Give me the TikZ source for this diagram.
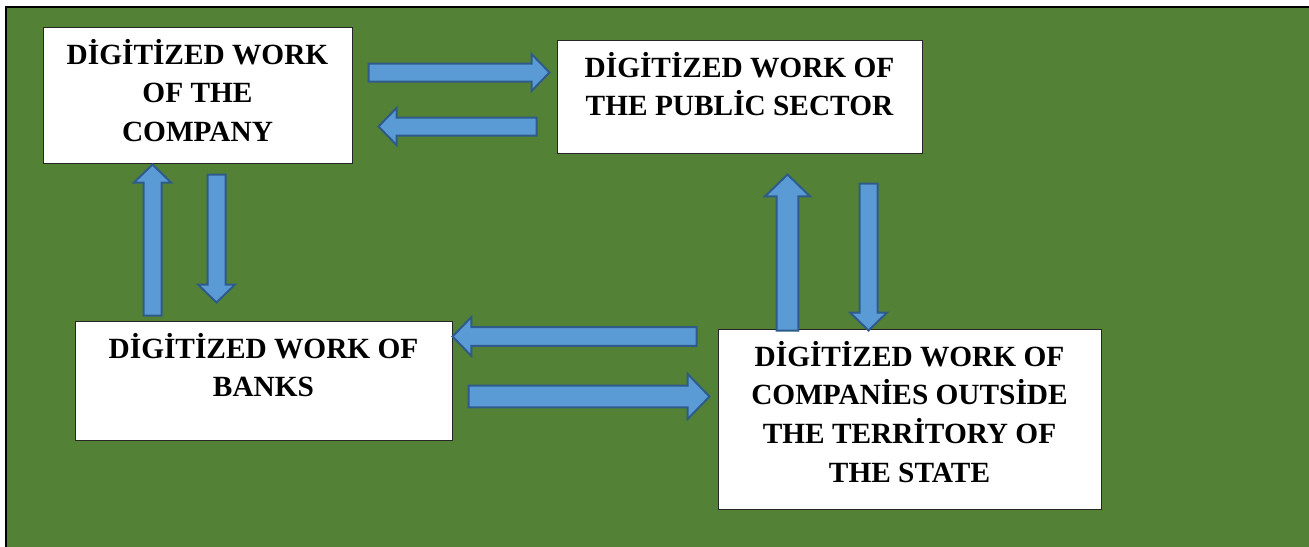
\documentclass[tikz,border=0pt]{standalone}
\usepackage{fontspec}
\setmainfont{Liberation Serif}
\usepackage{xcolor}
\usetikzlibrary{calc}

\definecolor{fieldgreen}{HTML}{538135}
\definecolor{arrfill}{HTML}{5B9BD5}
\definecolor{arrline}{HTML}{2F5B8A}

% text of a box: fixed size, lines from the top
\newcommand{\boxlines}[3]{\parbox[t][#2][t]{#1}{\centering\vspace*{7.5pt}\strut#3}}
% block arrow from tail #1 to tip #2, size factor #3
\newcommand{\blockarrow}[3]{%
  \pgfmathsetlengthmacro\arrbody{6.75pt*#3}%
  \pgfmathsetlengthmacro\arrhead{13.9pt*#3}%
  \pgfmathsetlengthmacro\arrlen{13.5pt*#3}%
  \path #1 coordinate (ta) #2 coordinate (tp);
  \path ($(tp)!\arrlen!(ta)$) coordinate (hb);
  \draw[blockarr] ($(ta)!\arrbody!90:(tp)$) -- ($(hb)!\arrbody!-90:(ta)$) -- ($(hb)!\arrhead!-90:(ta)$) -- (tp)
    -- ($(hb)!\arrhead!90:(ta)$) -- ($(hb)!\arrbody!90:(ta)$) -- ($(ta)!\arrbody!-90:(tp)$) -- cycle;
}

\begin{document}
\begin{tikzpicture}[x=0.75pt, y=-0.75pt,
box/.style={rectangle, draw=black!85, line width=0.75pt, fill=white, inner sep=0pt, font=\fontsize{22}{29}\selectfont\bfseries},
blockarr/.style={fill=arrfill, draw=arrline, line width=1.5pt, line join=miter}
]
\useasboundingbox (0,0) rectangle (1309,546);
\fill[white] (0,0) rectangle (1309,546);
\draw[fieldgreen, line width=1.7pt, fill=fieldgreen] (6,7) rectangle (1330,570);
\draw[black, line width=1.7pt] (6,570) -- (6,7) -- (1330,7);

\node[box] (comp) at (197.5,95) {\boxlines{231.75pt}{102pt}{DİGİTİZED WORK\\OF THE\\COMPANY}};
\node[box] (pub) at (739.5,96.5) {\boxlines{273.75pt}{84.75pt}{DİGİTİZED WORK OF\\THE PUBLİC SECTOR}};
\node[box] (bank) at (263.5,380.5) {\boxlines{282.75pt}{89.25pt}{DİGİTİZED WORK OF\\BANKS}};
\node[box] (abroad) at (909.5,419) {\boxlines{287.25pt}{135pt}{DİGİTİZED WORK OF\\COMPANİES OUTSİDE\\THE TERRİTORY OF\\THE STATE}};

\blockarrow{($(comp.north east)+(16,46)$)}{($(pub.north west)+(-7,33)$)}{1}
\blockarrow{($(pub.north west)+(-20,87)$)}{($(comp.north east)+(26,100)$)}{1}
\blockarrow{($(bank.north west)+(78,-5)$)}{($(comp.south west)+(110,1)$)}{1}
\blockarrow{($(comp.south west)+(174,11)$)}{($(bank.north west)+(142,-18)$)}{1}
\blockarrow{($(abroad.north west)+(-21,8)$)}{($(bank.north east)+(0,16)$)}{1.05}
\blockarrow{($(bank.north east)+(16,76)$)}{($(abroad.north west)+(-8,68)$)}{1.22}
\blockarrow{($(abroad.north west)+(70,2)$)}{($(pub.south west)+(231,21)$)}{1.22}
\blockarrow{($(pub.south west)+(312,30)$)}{($(abroad.north west)+(151,2)$)}{1}
\end{tikzpicture}
\end{document}
